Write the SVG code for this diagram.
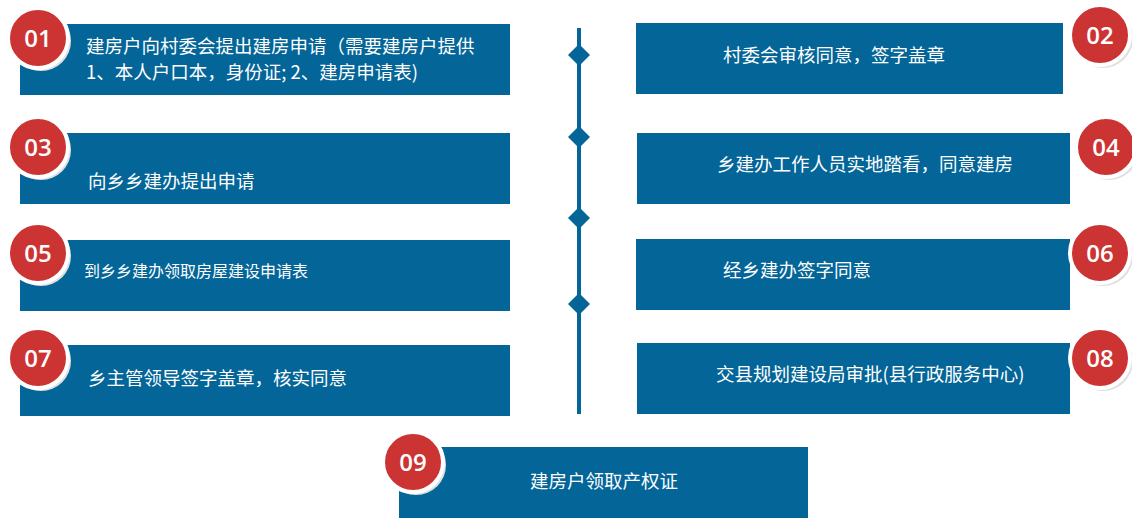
<svg xmlns="http://www.w3.org/2000/svg" width="1132" height="518" viewBox="0 0 1132 518">
<style>
.b{fill:#036598}
.t{fill:#fff;font-family:"Noto Sans CJK SC","Noto Sans",sans-serif;font-size:18.5px}
.n{fill:#fff;font-family:"Open Sans","Noto Sans",sans-serif;font-size:24px;font-weight:600;text-anchor:middle}
.c{fill:#cc3333;stroke:#fff;stroke-width:4}
.s{fill:#e0e0e0}
</style>
<defs>
<g id="dm"><path d="M0,-11 L11,0 L0,11 L-11,0Z" fill="#036598"/></g>
</defs>
<g id="connectors">
<line x1="579" y1="28" x2="579" y2="414" stroke="#036598" stroke-width="4"/>
<use href="#dm" x="579" y="55"/><use href="#dm" x="579" y="137"/><use href="#dm" x="579" y="218"/><use href="#dm" x="579" y="304"/>
</g>
<g id="n01"><rect class="b" x="20" y="24" width="490" height="71"/><circle class="s" cx="41" cy="41" r="30"/><circle class="c" cx="38" cy="38" r="30"/><text class="n" x="38" y="47">01</text>
<text class="t" x="86" y="53">建房户向村委会提出建房申请（需要建房户提供</text><text class="t" x="86" y="79">1、本人户口本，身份证; 2、建房申请表)</text></g>
<g id="n02"><rect class="b" x="636" y="23" width="427" height="71"/><circle class="s" cx="1103" cy="38" r="30"/><circle class="c" cx="1100" cy="35" r="30"/><text class="n" x="1100" y="44">02</text>
<text class="t" x="723" y="62">村委会审核同意，签字盖章</text></g>
<g id="n03"><rect class="b" x="20" y="133" width="490" height="71"/><circle class="s" cx="41" cy="150" r="30"/><circle class="c" cx="38" cy="147" r="30"/><text class="n" x="38" y="156">03</text>
<text class="t" x="88" y="188">向乡乡建办提出申请</text></g>
<g id="n04"><rect class="b" x="637" y="133" width="433" height="71"/><circle class="s" cx="1109" cy="150" r="30"/><circle class="c" cx="1106" cy="147" r="30"/><text class="n" x="1106" y="156">04</text>
<text class="t" x="717" y="171">乡建办工作人员实地踏看，同意建房</text></g>
<g id="n05"><rect class="b" x="20" y="240" width="490" height="71"/><circle class="s" cx="41" cy="256" r="30"/><circle class="c" cx="38" cy="253" r="30"/><text class="n" x="38" y="262">05</text>
<text class="t" x="84" y="277" style="font-size:16px">到乡乡建办领取房屋建设申请表</text></g>
<g id="n06"><rect class="b" x="636" y="239" width="434" height="71"/><circle class="s" cx="1103" cy="256" r="30"/><circle class="c" cx="1100" cy="253" r="30"/><text class="n" x="1100" y="262">06</text>
<text class="t" x="723" y="277">经乡建办签字同意</text></g>
<g id="n07"><rect class="b" x="20" y="345" width="490" height="71"/><circle class="s" cx="41" cy="361" r="30"/><circle class="c" cx="38" cy="358" r="30"/><text class="n" x="38" y="367">07</text>
<text class="t" x="88" y="385">乡主管领导签字盖章，核实同意</text></g>
<g id="n08"><rect class="b" x="637" y="343" width="433" height="71"/><circle class="s" cx="1103" cy="361" r="30"/><circle class="c" cx="1100" cy="358" r="30"/><text class="n" x="1100" y="367">08</text>
<text class="t" x="716" y="381">交县规划建设局审批(县行政服务中心)</text></g>
<g id="n09"><rect class="b" x="399" y="447" width="409" height="71"/><circle class="s" cx="416" cy="465" r="30"/><circle class="c" cx="413" cy="462" r="30"/><text class="n" x="413" y="471">09</text>
<text class="t" x="530" y="488">建房户领取产权证</text></g>
</svg>
